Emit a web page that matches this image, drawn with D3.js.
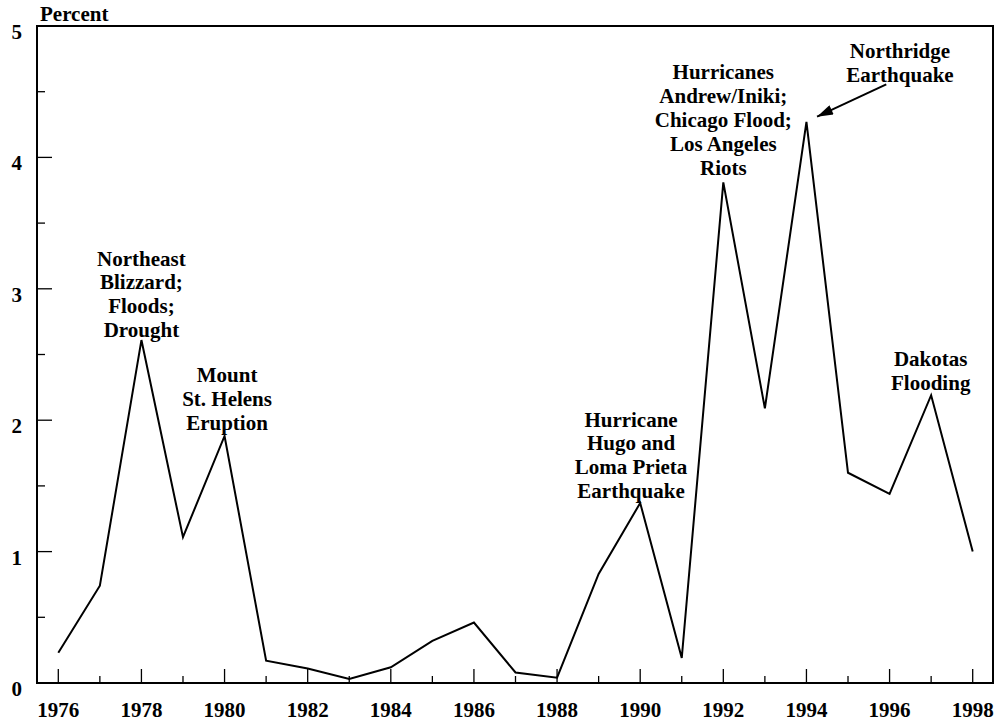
<!DOCTYPE html>
<html><head><meta charset="utf-8">
<script src="https://cdn.jsdelivr.net/npm/d3@7"></script>
<style>
body{margin:0;background:#fff;}
text{font-family:"Liberation Serif","Times New Roman",serif;font-weight:bold;fill:#000;}
</style></head>
<body><svg id="c" width="997" height="723"></svg>
<script>
const years = [1976,1977,1978,1979,1980,1981,1982,1983,1984,1985,1986,1987,1988,1989,1990,1991,1992,1993,1994,1995,1996,1997,1998];
const values = [0.23,0.74,2.61,1.11,1.88,0.17,0.11,0.03,0.12,0.32,0.46,0.08,0.04,0.83,1.37,0.19,3.81,2.09,4.27,1.60,1.44,2.19,1.00];
const yTicks = [0,1,2,3,4,5];
const xTickLabels = [1976,1978,1980,1982,1984,1986,1988,1990,1992,1994,1996,1998];
// annotation anchor: x in years (center), top = value of first-line baseline
const annotations = [
  {year:1978.0, top:3.176, lines:["Northeast","Blizzard;","Floods;","Drought"]},
  {year:1980.06, top:2.288, lines:["Mount","St. Helens","Eruption"]},
  {year:1989.78, top:1.951, lines:["Hurricane","Hugo and","Loma Prieta","Earthquake"]},
  {year:1992.0, top:4.594, lines:["Hurricanes","Andrew/Iniki;","Chicago Flood;","Los Angeles","Riots"]},
  {year:1996.25, top:4.754, lines:["Northridge","Earthquake"]},
  {year:1996.99, top:2.412, lines:["Dakotas","Flooding"]}
];
const arrowFrom = {year:1995.92, value:4.556};
const arrowTo = {year:1994.255, value:4.31};

const svg = d3.select("#c");
const L = 37, R = 993, T = 26, B = 683;
const step = 41.56;
const x = d3.scaleLinear().domain([1976 - (58.3-L)/step, 1998 + (R-972.7)/step]).range([L, R]);
const y = d3.scaleLinear().domain([0,5]).range([B, T]);
const FS = 21;

// frame
svg.append("rect").attr("x",L).attr("y",T).attr("width",R-L).attr("height",B-T)
  .attr("fill","none").attr("stroke","#000").attr("stroke-width",2);

// y ticks (major and minor)
const yg = svg.append("g");
d3.range(0,5.01,0.5).forEach(v=>{
  const major = Math.abs(v-Math.round(v))<1e-6;
  if (v>0 && v<5) yg.append("line").attr("x1",L).attr("x2",L+(major?15:8))
    .attr("y1",y(v)).attr("y2",y(v)).attr("stroke","#000").attr("stroke-width",1.3);
});
yTicks.forEach(v=>{
  yg.append("text").attr("x",22).attr("y",y(v)+13).attr("text-anchor","end")
    .attr("font-size",FS).text(v);
});
svg.append("text").attr("x",40).attr("y",21).attr("font-size",FS).text("Percent");

// x ticks
const xg = svg.append("g");
years.forEach(yr=>{
  const major = xTickLabels.includes(yr);
  xg.append("line").attr("x1",x(yr)).attr("x2",x(yr)).attr("y1",B).attr("y2",B-(major?14:7))
    .attr("stroke","#000").attr("stroke-width",1.3);
});
xTickLabels.forEach(yr=>{
  xg.append("text").attr("x",x(yr)).attr("y",B+34).attr("text-anchor","middle")
    .attr("font-size",FS).text(yr);
});

// line
const line = d3.line().x((d,i)=>x(years[i])).y(d=>y(d));
svg.append("path").datum(values).attr("d",line).attr("fill","none")
  .attr("stroke","#000").attr("stroke-width",2).attr("stroke-linejoin","miter");

// annotations
const lh = 23.8;
annotations.forEach(a=>{
  const t = svg.append("text").attr("text-anchor","middle").attr("font-size",FS);
  a.lines.forEach((s,i)=>{
    t.append("tspan").attr("x",x(a.year)).attr("y",y(a.top)+i*lh).text(s);
  });
});

// arrow for Northridge
const defs = svg.append("defs");
defs.append("marker").attr("id","ah").attr("viewBox","0 0 16 10").attr("refX",16).attr("refY",5)
  .attr("markerWidth",17).attr("markerHeight",10).attr("markerUnits","userSpaceOnUse").attr("orient","auto")
  .append("path").attr("d","M0,0 L16,5 L0,10 Z").attr("fill","#000");
svg.append("line").attr("x1",x(arrowFrom.year)).attr("y1",y(arrowFrom.value))
  .attr("x2",x(arrowTo.year)).attr("y2",y(arrowTo.value))
  .attr("stroke","#000").attr("stroke-width",2).attr("marker-end","url(#ah)");
</script></body></html>
